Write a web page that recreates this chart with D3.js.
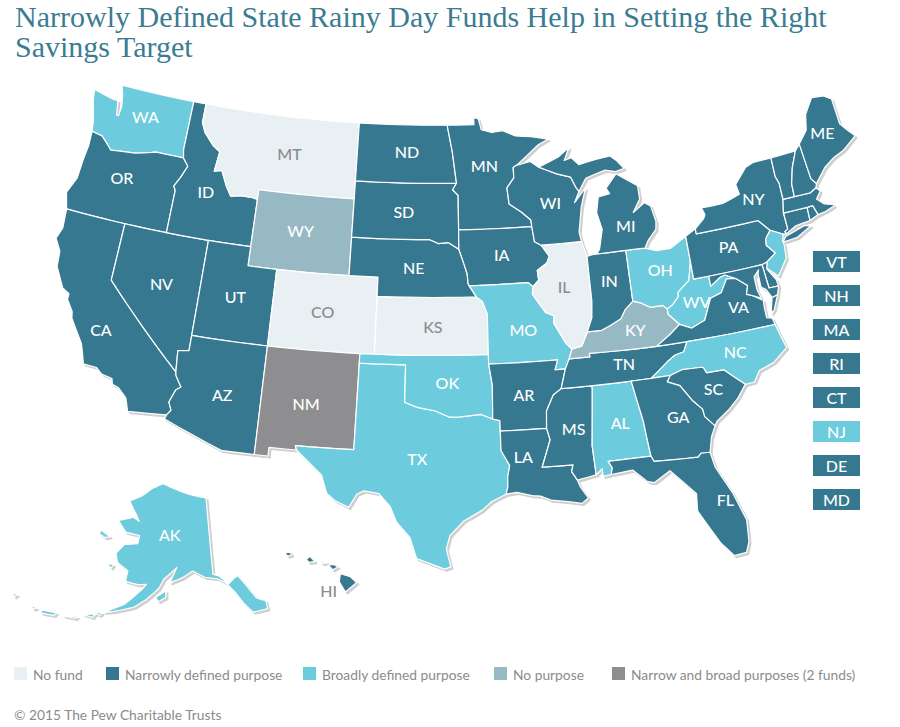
<!DOCTYPE html>
<html>
<head>
<meta charset="utf-8">
<script src="https://cdn.jsdelivr.net/npm/d3@7"></script>
<style>
	html, body { margin: 0; background: #fff; }
	svg { display: block; font-family: Lato, sans-serif; }
	.title { font-family: "Liberation Serif", serif; font-size: 30px; fill: #3a7c92; }
	.state { stroke: #fff; stroke-width: 1.2; stroke-linejoin: round; }
	.label { font-size: 16px; font-weight: 500; text-anchor: middle; dominant-baseline: central; }
	.key { font-size: 13.8px; fill: #8b8b8b; dominant-baseline: central; }
</style>
</head>
<body>
<svg id="map" width="900" height="727"></svg>
<script>
var colors = { none: "#e9f0f3", narrow: "#35788f", broad: "#6ccbdd", nopurpose: "#97b9c4", both: "#8e8e90" };
var gray = "#8b8b8b";

// outlines are [lon, lat], read off by eye and kept rough
var states = [
	{ id: "WA", type: "broad", at: [-120.4, 47.7], rings: [[[-124.7,48.4],[-123.1,48.15],[-122.75,48.15],[-122.55,47.4],[-122.4,47.4],[-122.35,47.9],[-122.5,48.5],[-122.75,49],[-117.03,49],[-117.04,46.42],[-116.92,45.99],[-118.98,46],[-119.3,45.93],[-120.5,45.7],[-121.2,45.65],[-122.3,45.55],[-122.8,45.9],[-123.2,46.15],[-124,46.25],[-124.1,46.7],[-124.2,47],[-124.6,47.9]]] },
	{ id: "OR", type: "narrow", at: [-121, 44.3], rings: [[[-124,46.25],[-123.2,46.15],[-122.8,45.9],[-122.3,45.55],[-121.2,45.65],[-120.5,45.7],[-119.3,45.93],[-118.98,46],[-116.92,45.99],[-116.48,45.6],[-116.85,44.95],[-117.2,44.45],[-117.03,44.25],[-117.03,42],[-124.21,42],[-124.55,42.84],[-124.1,43.7],[-124.05,44.7],[-123.95,45.5]]] },
	{ id: "CA", type: "narrow", at: [-119.9, 36.4], rings: [[[-124.21,42],[-120,42],[-120,39],[-114.63,35],[-114.57,34.8],[-114.14,34.27],[-114.43,34.08],[-114.72,33.4],[-114.5,33],[-114.72,32.72],[-117.12,32.53],[-117.25,32.85],[-117.4,33.2],[-118,33.65],[-118.4,33.75],[-118.5,34.03],[-119.2,34.15],[-119.6,34.42],[-120.47,34.45],[-120.65,34.9],[-120.9,35.45],[-121.9,36.6],[-122,36.95],[-122.5,37.5],[-122.5,37.8],[-123,38],[-123.75,39],[-123.85,39.8],[-124.35,40.4],[-124.1,41]]] },
	{ id: "NV", type: "narrow", at: [-116.65, 39.35], rings: [[[-120,42],[-114.04,42],[-114.04,36.2],[-114.75,36.1],[-114.63,35],[-120,39]]] },
	{ id: "ID", type: "narrow", at: [-114.85, 44.5], rings: [[[-117.03,49],[-116.05,49],[-116.05,48],[-115.7,47.5],[-114.9,46.9],[-114.35,46.65],[-114.5,45.6],[-113.95,45.7],[-113.45,44.95],[-113,44.45],[-112.3,44.55],[-111.5,44.55],[-111.05,44.48],[-111.05,42],[-117.03,42],[-117.03,44.25],[-117.2,44.45],[-116.85,44.95],[-116.48,45.6],[-116.92,45.99],[-117.04,46.42]]] },
	{ id: "MT", type: "none", at: [-109.15, 47.05], rings: [[[-116.05,49],[-104.05,49],[-104.05,45],[-111.05,45],[-111.05,44.48],[-111.5,44.55],[-112.3,44.55],[-113,44.45],[-113.45,44.95],[-113.95,45.7],[-114.5,45.6],[-114.35,46.65],[-114.9,46.9],[-115.7,47.5],[-116.05,48]]] },
	{ id: "WY", type: "nopurpose", at: [-107.7, 43.15], rings: [[[-111.05,45],[-104.05,45],[-104.05,41],[-111.05,41]]] },
	{ id: "UT", type: "narrow", at: [-111.6, 39.35], rings: [[[-114.04,42],[-111.05,42],[-111.05,41],[-109.05,41],[-109.05,37],[-114.04,37]]] },
	{ id: "CO", type: "none", at: [-105.65, 39.05], rings: [[[-109.05,41],[-102.05,41],[-102.05,37],[-109.05,37]]] },
	{ id: "AZ", type: "narrow", at: [-111.5, 34.2], rings: [[[-114.04,37],[-109.05,37],[-109.05,31.33],[-111.07,31.33],[-114.81,32.5],[-114.72,32.72],[-114.5,33],[-114.72,33.4],[-114.43,34.08],[-114.14,34.27],[-114.57,34.8],[-114.63,35],[-114.75,36.1],[-114.04,36.2]]] },
	{ id: "NM", type: "both", at: [-106.2, 34.25], rings: [[[-109.05,37],[-103,37],[-103.04,32],[-106.62,32],[-106.53,31.78],[-108.21,31.78],[-108.21,31.33],[-109.05,31.33]]] },
	{ id: "TX", type: "broad", at: [-99.15, 31.65], rings: [[[-106.62,32],[-103.04,32],[-103,36.5],[-100,36.5],[-100,34.56],[-99.2,34.3],[-98.1,34.13],[-97.2,33.8],[-96.5,33.8],[-95.2,33.9],[-94.48,33.64],[-94.04,33.55],[-94.04,33],[-94.04,31.99],[-93.55,31.18],[-93.7,30.6],[-93.72,30.05],[-93.84,29.7],[-94.7,29.35],[-95.3,28.9],[-96.4,28.35],[-97.2,27.6],[-97.4,26.9],[-97.15,25.96],[-97.5,25.85],[-99.1,26.4],[-99.5,27.5],[-100.3,28.3],[-100.7,29.1],[-101.4,29.77],[-102.3,29.88],[-102.7,29.7],[-103.15,28.98],[-104,29.3],[-104.5,29.65],[-104.9,30.6],[-106,31.4],[-106.53,31.78]]] },
	{ id: "OK", type: "broad", at: [-97.3, 35.6], rings: [[[-103,37],[-94.62,37],[-94.62,36.5],[-94.43,35.4],[-94.48,33.64],[-95.2,33.9],[-96.5,33.8],[-97.2,33.8],[-98.1,34.13],[-99.2,34.3],[-100,34.56],[-100,36.5],[-103,36.5]]] },
	{ id: "KS", type: "none", at: [-98.25, 38.5], rings: [[[-102.05,40],[-95.31,40],[-94.9,39.75],[-94.6,39.1],[-94.62,37],[-102.05,37]]] },
	{ id: "NE", type: "narrow", at: [-99.6, 41.55], rings: [[[-104.05,43],[-98.5,43],[-97.9,42.8],[-97.2,42.85],[-96.45,42.49],[-96.1,41.7],[-95.9,41.2],[-95.85,40.7],[-95.77,40.58],[-95.31,40],[-102.05,40],[-102.05,41],[-104.05,41]]] },
	{ id: "SD", type: "narrow", at: [-100.4, 44.45], rings: [[[-104.05,45.94],[-96.56,45.94],[-96.85,45.6],[-96.45,45.3],[-96.45,43.5],[-96.45,42.49],[-97.2,42.85],[-97.9,42.8],[-98.5,43],[-104.05,43]]] },
	{ id: "ND", type: "narrow", at: [-100.3, 47.6], rings: [[[-104.05,49],[-97.23,49],[-96.85,47.6],[-96.56,45.94],[-104.05,45.94]]] },
	{ id: "MN", type: "narrow", at: [-94.45, 46.85], rings: [[[-97.23,49],[-95.15,49],[-95.15,49.38],[-94.8,49.3],[-94.6,48.72],[-93.8,48.55],[-92.95,48.62],[-92,48.3],[-90.8,48.2],[-89.5,48],[-90.3,47.75],[-92.05,46.75],[-92.3,46.65],[-92.3,46.1],[-92.85,45.6],[-92.75,44.75],[-91.9,44.3],[-91.25,43.85],[-91.22,43.5],[-96.45,43.5],[-96.45,45.3],[-96.85,45.6],[-96.56,45.94],[-96.85,47.6]]] },
	{ id: "IA", type: "narrow", at: [-93.45, 42.15], rings: [[[-96.45,43.5],[-91.22,43.5],[-91.1,42.7],[-90.65,42.5],[-90.15,41.9],[-90.35,41.55],[-91.05,41.2],[-91,40.7],[-91.42,40.38],[-91.73,40.61],[-95.77,40.58],[-95.85,40.7],[-95.9,41.2],[-96.1,41.7],[-96.45,42.49]]] },
	{ id: "MO", type: "broad", at: [-92.25, 38.2], rings: [[[-95.77,40.58],[-91.73,40.61],[-91.42,40.38],[-91.5,40],[-90.7,39],[-90.15,38.8],[-90.2,38.4],[-89.5,37.3],[-89.15,37],[-89.4,36.5],[-89.7,36],[-90.37,36],[-90.15,36.5],[-94.62,36.5],[-94.62,37],[-94.6,39.1],[-94.9,39.75],[-95.31,40]]] },
	{ id: "AR", type: "narrow", at: [-92.45, 34.85], rings: [[[-94.62,36.5],[-90.15,36.5],[-90.37,36],[-89.7,36],[-90.07,35],[-90.6,34.7],[-91.1,33.9],[-91.17,33],[-94.04,33],[-94.04,33.55],[-94.48,33.64],[-94.43,35.4]]] },
	{ id: "LA", type: "narrow", at: [-92.7, 31.6], rings: [[[-94.04,33],[-91.17,33],[-91,32.4],[-91.6,31],[-89.73,31],[-89.85,30.65],[-89.55,30.18],[-89.4,29.8],[-89,29.2],[-89.4,28.95],[-90.2,29.1],[-91.2,29.25],[-91.8,29.5],[-92.3,29.55],[-93.2,29.77],[-93.84,29.7],[-93.72,30.05],[-93.7,30.6],[-93.55,31.18],[-94.04,31.99]]] },
	{ id: "MS", type: "narrow", at: [-89.5, 32.9], rings: [[[-90.07,35],[-88.2,35],[-88.1,34.9],[-88.47,31.9],[-88.4,30.37],[-89.55,30.18],[-89.85,30.65],[-89.73,31],[-91.6,31],[-91,32.4],[-91.17,33],[-91.1,33.9],[-90.6,34.7]]] },
	{ id: "AL", type: "broad", at: [-86.6, 32.95], rings: [[[-88.2,35],[-85.6,35],[-85.18,32.87],[-85.1,32],[-85,31],[-87.6,31],[-87.4,30.65],[-87.5,30.3],[-88,30.25],[-88,30.65],[-88.4,30.37],[-88.47,31.9],[-88.1,34.9]]] },
	{ id: "TN", type: "narrow", at: [-85.9, 35.95], rings: [[[-90.07,35],[-89.7,36],[-89.4,36.5],[-88.05,36.5],[-88.07,36.68],[-83.68,36.6],[-81.68,36.59],[-82,36.1],[-82.6,36],[-83.1,35.75],[-84.32,35],[-85.6,35],[-88.2,35]]] },
	{ id: "KY", type: "nopurpose", at: [-84.9, 37.6], rings: [[[-89.4,36.5],[-89.15,37],[-88.5,37.1],[-88.05,37.8],[-87.1,37.8],[-86.5,38],[-85.75,38.27],[-85.4,38.7],[-84.8,39.1],[-84.3,38.95],[-83.7,38.65],[-82.85,38.65],[-82.6,38.42],[-82.6,38.15],[-81.97,37.54],[-82.7,37.1],[-83.68,36.6],[-88.07,36.68],[-88.05,36.5]]] },
	{ id: "IL", type: "none", at: [-89.3, 40.25], rings: [[[-90.65,42.5],[-87.8,42.5],[-87.53,41.7],[-87.53,39.35],[-87.65,38.5],[-88.05,37.8],[-88.5,37.1],[-89.15,37],[-89.5,37.3],[-90.2,38.4],[-90.15,38.8],[-90.7,39],[-91.5,40],[-91.42,40.38],[-91,40.7],[-91.05,41.2],[-90.35,41.55],[-90.15,41.9]]] },
	{ id: "IN", type: "narrow", at: [-86.2, 40.3], rings: [[[-87.53,41.7],[-87.2,41.75],[-86.82,41.76],[-84.8,41.76],[-84.8,39.1],[-85.4,38.7],[-85.75,38.27],[-86.5,38],[-87.1,37.8],[-88.05,37.8],[-87.65,38.5],[-87.53,39.35]]] },
	{ id: "OH", type: "broad", at: [-82.65, 40.5], rings: [[[-84.8,41.76],[-83.45,41.73],[-82.7,41.5],[-81.7,41.5],[-80.52,41.98],[-80.52,40.64],[-80.85,39.7],[-81.7,39.2],[-81.75,38.95],[-82.2,38.6],[-82.6,38.42],[-82.85,38.65],[-83.7,38.65],[-84.3,38.95],[-84.8,39.1]]] },
	{ id: "WV", type: "broad", at: [-80.6, 38.55], rings: [[[-80.52,40.64],[-80.52,39.72],[-79.48,39.72],[-79.48,39.2],[-78.75,39.55],[-78.4,39.62],[-77.72,39.32],[-78.35,39.4],[-78.87,38.76],[-79.65,38.58],[-80.3,37.52],[-81.22,37.24],[-81.97,37.54],[-82.6,38.15],[-82.6,38.42],[-82.2,38.6],[-81.75,38.95],[-81.7,39.2],[-80.85,39.7]]] },
	{ id: "VA", type: "narrow", at: [-77.95, 37.85], rings: [[[-83.68,36.6],[-81.68,36.59],[-75.87,36.55],[-75.95,36.9],[-76.3,37],[-76.3,37.55],[-76.25,37.9],[-76.95,38.3],[-77.25,38.4],[-77.05,38.84],[-77.72,39.32],[-78.35,39.4],[-78.87,38.76],[-79.65,38.58],[-80.3,37.52],[-81.22,37.24],[-81.97,37.54],[-82.7,37.1]],[[-75.95,37.15],[-75.65,37.95],[-75.25,38.03],[-75.7,37.3]]] },
	{ id: "NC", type: "broad", at: [-78.75, 35.65], rings: [[[-84.32,35],[-83.1,35.75],[-82.6,36],[-82,36.1],[-81.68,36.59],[-75.87,36.55],[-75.5,35.25],[-76.5,34.65],[-77.5,34.4],[-77.95,33.87],[-78.55,33.85],[-79.68,34.8],[-80.8,34.82],[-80.93,35.1],[-81.04,35.15],[-82.3,35.2],[-83.1,35]]] },
	{ id: "SC", type: "narrow", at: [-80.55, 33.95], rings: [[[-83.1,35],[-82.3,35.2],[-81.04,35.15],[-80.93,35.1],[-80.8,34.82],[-79.68,34.8],[-78.55,33.85],[-79.2,33.2],[-79.9,32.7],[-80.7,32.25],[-80.87,32.03],[-81.4,32.6],[-81.45,33],[-81.95,33.5],[-82.6,34.4],[-83.35,34.7]]] },
	{ id: "GA", type: "narrow", at: [-83, 32.85], rings: [[[-85.6,35],[-84.32,35],[-83.1,35],[-83.35,34.7],[-82.6,34.4],[-81.95,33.5],[-81.45,33],[-81.4,32.6],[-80.87,32.03],[-81.2,31.5],[-81.45,30.72],[-82,30.75],[-82.2,30.57],[-84.86,30.7],[-85,31],[-85.1,32],[-85.18,32.87]]] },
	{ id: "FL", type: "narrow", at: [-81.05, 28.15], rings: [[[-87.6,31],[-85,31],[-84.86,30.7],[-82.2,30.57],[-82,30.75],[-81.45,30.72],[-81.3,29.9],[-80.55,28.4],[-80.05,26.9],[-80.15,25.75],[-80.4,25.2],[-81.1,25.15],[-81.75,25.95],[-82.1,26.6],[-82.75,27.8],[-82.65,28.7],[-83.4,29.5],[-84,30.1],[-85,29.6],[-85.4,29.7],[-86.2,30.4],[-87.5,30.3],[-87.4,30.65]]] },
	{ id: "WI", type: "narrow", at: [-89.75, 44.65], rings: [[[-92.05,46.75],[-91,46.9],[-90.4,46.57],[-89.1,46.14],[-88.1,45.9],[-87.8,45.35],[-87.6,45.1],[-88,44.55],[-87.1,45.25],[-87.55,44.3],[-87.9,43],[-87.8,42.5],[-90.65,42.5],[-91.1,42.7],[-91.22,43.5],[-91.25,43.85],[-91.9,44.3],[-92.75,44.75],[-92.85,45.6],[-92.3,46.1],[-92.3,46.65]]] },
	{ id: "MI", type: "narrow", at: [-84.55, 43.05], rings: [[[-86.82,41.76],[-84.8,41.76],[-83.45,41.73],[-83.15,42.1],[-82.5,42.6],[-82.4,43],[-82.6,43.85],[-83,44.07],[-83.9,43.65],[-83.3,44.3],[-83.3,45],[-84.75,45.78],[-85.6,45.1],[-85.4,44.8],[-86.25,44.7],[-86.5,43.9],[-86.25,43],[-86.6,42]],[[-90.4,46.57],[-89.1,46.14],[-88.1,45.9],[-87.8,45.35],[-87.6,45.1],[-87,45.75],[-86.3,45.9],[-85.5,46.05],[-84.75,45.9],[-84.1,46],[-84.55,46.45],[-85,46.75],[-86.1,46.67],[-87.4,46.5],[-87.9,46.9],[-88.45,46.8],[-88,47.45],[-88.9,47]]] },
	{ id: "PA", type: "narrow", at: [-77.75, 41], rings: [[[-80.52,41.98],[-79.76,42.27],[-79.76,42],[-75.35,42],[-74.7,41.36],[-75.13,40.98],[-75.2,40.65],[-74.72,40.15],[-75.42,39.8],[-75.79,39.72],[-79.48,39.72],[-80.52,39.72],[-80.52,40.64]]] },
	{ id: "NY", type: "narrow", at: [-75.3, 43.15], rings: [[[-79.76,42.27],[-79.05,42.7],[-78.9,42.9],[-79.05,43.27],[-77.5,43.27],[-76.2,43.55],[-76.3,44.1],[-75.3,44.85],[-74.7,45],[-73.35,45],[-73.4,44],[-73.25,43.6],[-73.28,42.75],[-73.5,42.05],[-73.49,41.2],[-73.73,41.1],[-73.65,40.98],[-73.9,41],[-74.7,41.36],[-75.35,42],[-79.76,42]],[[-74.03,40.6],[-73.75,40.85],[-72.3,41.15],[-71.9,41.05],[-73,40.65]]] },
	{ id: "NJ", type: "broad", rings: [[[-74.7,41.36],[-73.9,41],[-74.05,40.65],[-74,40.45],[-74.1,39.75],[-74.9,38.95],[-75.55,39.5],[-75.42,39.8],[-74.72,40.15],[-75.2,40.65],[-75.13,40.98]]] },
	{ id: "DE", type: "narrow", rings: [[[-75.79,39.72],[-75.42,39.8],[-75.55,39.45],[-75.1,38.8],[-75.05,38.45],[-75.7,38.46]]] },
	{ id: "MD", type: "narrow", rings: [[[-79.48,39.72],[-75.79,39.72],[-75.7,38.46],[-75.05,38.45],[-75.25,38.03],[-75.65,37.95],[-75.9,38.4],[-76.2,38.6],[-76.2,39.3],[-76.1,39.5],[-76.5,39.2],[-76.5,38.5],[-76.35,38.05],[-76.95,38.3],[-77.25,38.4],[-77.05,38.84],[-77.72,39.32],[-78.4,39.62],[-78.75,39.55],[-79.48,39.2]]] },
	{ id: "CT", type: "narrow", rings: [[[-73.49,42.05],[-71.8,42.02],[-71.85,41.32],[-72.9,41.25],[-73.65,40.98],[-73.73,41.1],[-73.49,41.2]]] },
	{ id: "RI", type: "narrow", rings: [[[-71.8,42.02],[-71.38,42.02],[-71.2,41.5],[-71.85,41.32]]] },
	{ id: "MA", type: "narrow", rings: [[[-73.5,42.05],[-73.28,42.75],[-72.46,42.73],[-71.3,42.7],[-70.82,42.87],[-70.6,42.65],[-71,42.3],[-70.6,41.95],[-70.05,41.8],[-70.2,42.07],[-69.95,41.7],[-70.65,41.55],[-71.2,41.5],[-71.38,42.02],[-71.8,42.02]]] },
	{ id: "VT", type: "narrow", rings: [[[-73.35,45],[-71.5,45.01],[-72.05,44.2],[-72.4,43.4],[-72.46,42.73],[-73.28,42.75],[-73.25,43.6],[-73.4,44]]] },
	{ id: "NH", type: "narrow", rings: [[[-71.5,45.01],[-71.08,45.3],[-70.98,43.4],[-70.7,43.07],[-70.82,42.87],[-71.3,42.7],[-72.46,42.73],[-72.4,43.4],[-72.05,44.2]]] },
	{ id: "ME", type: "narrow", at: [-69.2, 45.55], rings: [[[-71.08,45.3],[-70.3,45.9],[-70,46.7],[-69.2,47.45],[-68.3,47.35],[-67.8,47.07],[-67.8,45.7],[-67.45,45.3],[-67,44.85],[-68.2,44.3],[-69,44.1],[-69.8,43.75],[-70.7,43.07],[-70.98,43.4]]] }
];

var alaska = { id: "AK", type: "broad", at: [-152.5, 65.2], rings: [
	[[-141,69.65],[-141,60.3],[-139.5,60],[-137.5,58.9],[-136,59.5],[-135,59.7],[-133.5,58.4],[-131.8,56.6],[-130,56],[-130,55],[-131.5,55],[-133.2,55],[-134.8,56.3],[-136.3,57.8],[-138,59],[-140,59.7],[-143,60],[-146,60.8],[-148.5,60],[-151.5,59.3],[-150,61.2],[-153,59.7],[-154,58.5],[-156.5,57],[-159,55.8],[-163,54.8],[-165,54.4],[-161,56],[-158,58],[-157,58.8],[-159,58.6],[-162,58.7],[-162,60],[-165,60.7],[-166,61.7],[-164.5,63],[-161,63.5],[-161,64.5],[-165,64.5],[-168,65.6],[-164,66.5],[-162,66.2],[-163.5,67],[-166.5,68.3],[-163,69.3],[-160,70.5],[-156.5,71.3],[-152,70.8],[-147,70.2]],
	[[-154.5,57.4],[-152.3,58.3],[-152.2,57.5],[-153.8,56.9]],
	[[-171.8,63.8],[-168.8,63.4],[-170,63.1],[-171.8,63.3]],
	[[-167.5,60.2],[-165.8,60.3],[-166.1,59.8]],
	[[-166.9,54],[-165.3,54.3],[-165.6,53.9]],
	[[-168.9,53.4],[-166.6,53.9],[-166.9,53.4]],
	[[-172.6,52.4],[-169.8,52.9],[-170.2,52.6]],
	[[-177,51.95],[-174,52.4],[-174.3,52],[-176.8,51.6]],
	[[-179.4,51.9],[-178,51.9],[-178.4,51.6]],
	[[-183.6,52.1],[-182.6,52.2],[-182.9,51.8]]
] };

var hawaii = { id: "HI", type: "narrow", rings: [
	[[-155.9,20.25],[-155.2,19.95],[-154.8,19.5],[-155.7,18.95],[-156.05,19.7]],
	[[-156.7,20.95],[-156.3,20.95],[-156,20.75],[-156.4,20.58]],
	[[-157.25,21.2],[-156.75,21.17],[-157.05,21.08]],
	[[-158.25,21.55],[-157.95,21.7],[-157.65,21.3],[-158.1,21.3]],
	[[-159.75,22.1],[-159.4,22.22],[-159.3,21.95],[-159.6,21.9]]
] };

// parallels have to stay curved on the conic, so break long edges up
function densify(ring) {
	var out = [];
	ring.forEach(function (p, i) {
		var q = ring[(i + 1) % ring.length];
		var n = Math.ceil(Math.max(Math.abs(q[0] - p[0]), Math.abs(q[1] - p[1])));
		for (var k = 0; k < n; k++) {
			out.push([p[0] + (q[0] - p[0]) * k / n, p[1] + (q[1] - p[1]) * k / n]);
		}
	});
	return out;
}

function toFeature(d) {
	return {
		type: "MultiPolygon",
		id: d.id,
		coordinates: d.rings.map(function (r) {
			var ring = densify(r);
			ring.push(ring[0].slice());
			// d3 wants the small side inside
			if (d3.geoArea({ type: "Polygon", coordinates: [ring] }) > 2 * Math.PI) ring.reverse();
			return [ring];
		}),
	};
}

// the reference map sits a little tilted and squat, fitted against a few corners
var lower48 = d3.geoAlbers().scale(1111).translate([0, 0]);
function tilt(x, y) {
	return [x + 0.018 * y + 457.6, -0.0225 * x + 0.9856 * y + 322.4];
}
var tilted = d3.geoTransform({
	point: function (x, y) {
		var p = tilt(x, y);
		this.stream.point(p[0], p[1]);
	},
});
var lowerPath = d3.geoPath({ stream: function (s) { return lower48.stream(tilted.stream(s)); } });
var lowerXY = function (p) { var q = lower48(p); return tilt(q[0], q[1]); };

var akProj = d3.geoConicEqualArea().rotate([147, 0]).center([0, 64]).parallels([55, 65]).scale(470).translate([188.6, 544.8]);
var hiProj = d3.geoConicEqualArea().rotate([157, 0]).center([0, 20.5]).parallels([8, 18]).angle(7).scale(830).translate([325, 572]);

var svg = d3.select("#map");

svg.append("defs").append("filter")
	.attr("id", "shade")
	.attr("x", "-5%").attr("y", "-5%").attr("width", "110%").attr("height", "110%")
	.append("feDropShadow")
	.attr("dx", 2).attr("dy", 2).attr("stdDeviation", 0.7)
	.attr("flood-color", "#cfcfcf");

var title = svg.append("text").attr("class", "title");
title.append("tspan").attr("x", 15).attr("y", 27).text("Narrowly Defined State Rainy Day Funds Help in Setting the Right");
title.append("tspan").attr("x", 15).attr("y", 57).text("Savings Target");

var mapG = svg.append("g").attr("filter", "url(#shade)");

function drawStates(list, path) {
	mapG.append("g").selectAll("path")
		.data(list)
		.join("path")
		.attr("class", "state")
		.attr("fill", function (d) { return colors[d.type]; })
		.attr("d", function (d) { return path(toFeature(d)); });
}

drawStates(states, lowerPath);
drawStates([alaska], d3.geoPath(akProj));
drawStates([hawaii], d3.geoPath(hiProj));

function labelColor(d) { return d.type === "none" ? gray : "#fff"; }

svg.append("g").selectAll("text")
	.data(states.filter(function (d) { return d.at; }))
	.join("text")
	.attr("class", "label")
	.attr("fill", labelColor)
	.attr("x", function (d) { return lowerXY(d.at)[0]; })
	.attr("y", function (d) { return lowerXY(d.at)[1]; })
	.text(function (d) { return d.id; });

svg.append("text").attr("class", "label").attr("fill", "#fff")
	.attr("x", akProj(alaska.at)[0]).attr("y", akProj(alaska.at)[1]).text("AK");
svg.append("text").attr("class", "label").attr("fill", gray)
	.attr("x", hiProj([-156.9, 19.2])[0]).attr("y", hiProj([-156.9, 19.2])[1]).text("HI");

// small states that get a box instead of a label
var boxes = ["VT", "NH", "MA", "RI", "CT", "NJ", "DE", "MD"];
var boxY = d3.scalePoint().domain(boxes).range([251, 489]);
var box = svg.append("g").selectAll("g").data(boxes).join("g")
	.attr("transform", function (d) { return "translate(813," + boxY(d) + ")"; });
box.append("rect").attr("width", 47).attr("height", 21)
	.attr("fill", function (d) { return d === "NJ" ? colors.broad : colors.narrow; });
box.append("text").attr("class", "label").attr("fill", "#fff")
	.attr("x", 23.5).attr("y", 10.5).text(function (d) { return d; });

var legend = [
	{ type: "none", text: "No fund", x: 14 },
	{ type: "narrow", text: "Narrowly defined purpose", x: 106 },
	{ type: "broad", text: "Broadly defined purpose", x: 303 },
	{ type: "nopurpose", text: "No purpose", x: 494 },
	{ type: "both", text: "Narrow and broad purposes (2 funds)", x: 612 },
];
var key = svg.append("g").selectAll("g").data(legend).join("g")
	.attr("transform", function (d) { return "translate(" + d.x + ",667)"; });
key.append("rect").attr("width", 13).attr("height", 13)
	.attr("fill", function (d) { return colors[d.type]; });
key.append("text").attr("class", "key").attr("x", 19).attr("y", 7).text(function (d) { return d.text; });

svg.append("text").attr("class", "key").attr("x", 14).attr("y", 714).text("© 2015 The Pew Charitable Trusts");
</script>
</body>
</html>
